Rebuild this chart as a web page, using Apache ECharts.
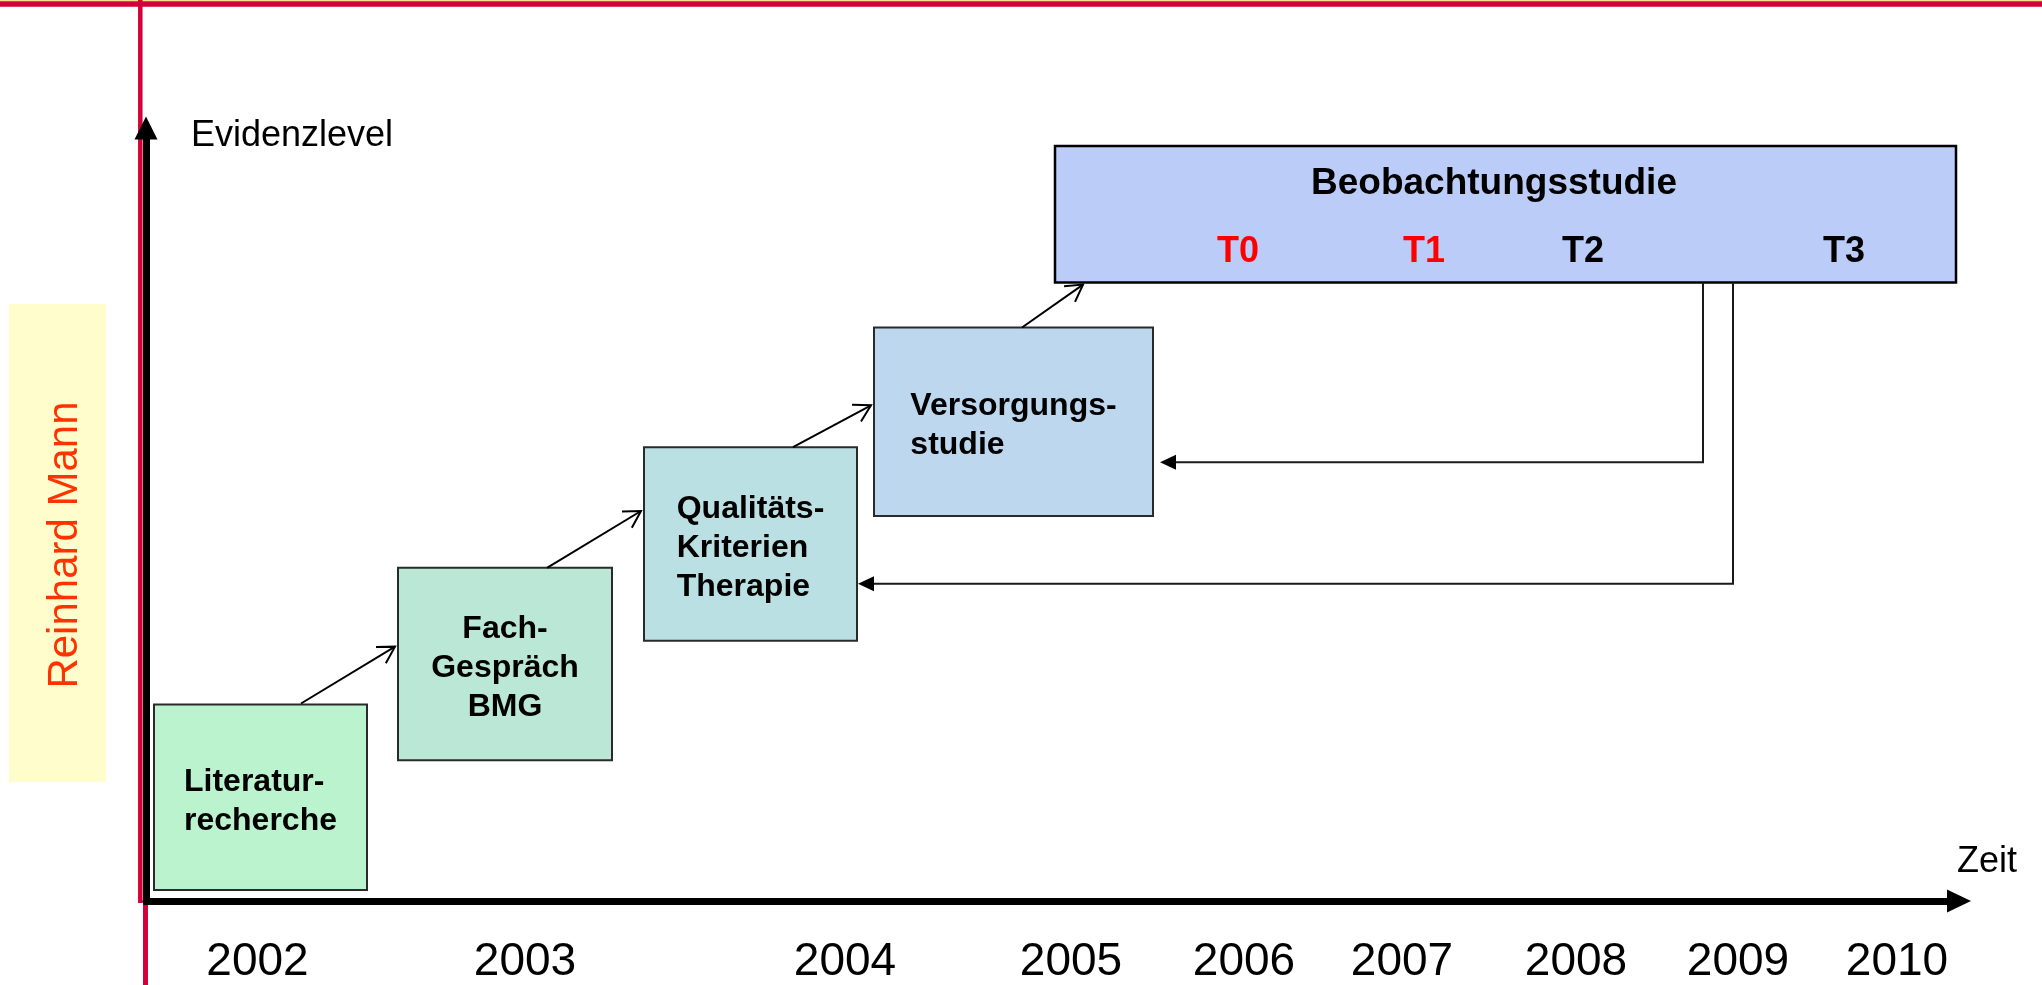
<!DOCTYPE html>
<html><head><meta charset="utf-8">
<script src="https://cdn.jsdelivr.net/npm/echarts@6/dist/echarts.min.js"></script>
<style>html,body{margin:0;padding:0;background:#fff}#c{width:2042px;height:985px}</style>
</head><body><div id="c"></div>
<script>
// ---- data: time (x) and evidence level (y), measured from the axis origin ----
const yearLabels = ['2002','2003','2004','2005','2006','2007','2008','2009','2010'];
const yearPos = [111.5, 379, 699, 925, 1098, 1256, 1430, 1592, 1751];

const stepLabels = [['Literatur-','recherche'], ['Fach-','Gespräch','BMG'], ['Qualitäts-','Kriterien','Therapie'], ['Versorgungs-','studie']];
const stepStart = [8, 252, 498, 728];
const stepEnd = [221, 466, 711, 1007];
const stepLow = [11, 141, 261, 386];
const stepHigh = [197, 334, 455, 575];

const studyLabel = 'Beobachtungsstudie';
const studySpan = [909, 1810];
const studyLevel = [620, 757];
const studyTitleAt = [1348, 721];
const timepointLabels = ['T0','T1','T2','T3'];
const timepointPos = [1092, 1278, 1437, 1698];
const timepointLevel = 652;

const arrowFrom = [[155,198],[401,334],[647,455],[876,575]];
const arrowTo = [[249,255],[495,391],[725,497],[937,618]];

const feedbackPaths = [[[1557,620],[1557,440],[1014,440]], [[1587,620],[1587,318],[712,318]]];

const axisNames = {y: 'Evidenzlevel', x: 'Zeit'};
const author = 'Reinhard Mann';

// ---- styles ----
const FONT = '"Liberation Sans", Arial, sans-serif';
const stepColors = ['#BBF3CF','#BBE8D6','#BBE0E3','#BCD7EE'];
const stepAlign = ['left','center','left','left'];
const studyColor = '#BBCCF9';
const timepointColors = ['#FF0000','#FF0000','#000000','#000000'];

const mctx = document.createElement('canvas').getContext('2d');
function textW(t, font){ mctx.font = font; return mctx.measureText(t).width; }

const chart = echarts.init(document.getElementById('c'), null, {renderer:'canvas'});

const stepFont = 'bold 32px ' + FONT;
const studyFont = 'bold 36px ' + FONT;
const titleFont = 'bold 37px ' + FONT;

function nearestYear(v){
  let bi = 0, bd = Infinity;
  yearPos.forEach((p,i)=>{ const d = Math.abs(p - v); if (d < bd){bd = d; bi = i;} });
  return yearLabels[bi];
}

const option = {
  backgroundColor: '#ffffff',
  animation: false,
  grid: {left:146, right:83, top:128, bottom:82, containLabel:false},
  xAxis: {
    type:'value', min:0, max:1813,
    axisLine:{show:true, onZero:false, symbol:['none','triangle'], symbolSize:[23,24], lineStyle:{color:'#000', width:7}},
    axisTick:{show:false}, splitLine:{show:false},
    axisLabel:{show:true, customValues: yearPos, formatter: v => nearestYear(v),
      fontSize:46, color:'#000', fontFamily:FONT, margin:38}
  },
  yAxis: {
    type:'value', min:0, max:775,
    axisLine:{show:true, onZero:false, symbol:['none','triangle'], symbolSize:[23,23], lineStyle:{color:'#000', width:7, cap:'square'}},
    axisTick:{show:false}, splitLine:{show:false}, axisLabel:{show:false}
  },
  graphic: [
    {type:'line', z:-10, shape:{x1:0,y1:0.5,x2:2042,y2:0.5}, style:{stroke:'#F6DC8C', lineWidth:1.5}},
    {type:'line', z:-10, shape:{x1:0,y1:4,x2:2042,y2:4}, style:{stroke:'#D4003A', lineWidth:5.5}},
    {type:'line', z:-10, shape:{x1:140.3,y1:0,x2:140.3,y2:903}, style:{stroke:'#D4003A', lineWidth:4.5}},
    {type:'line', z:-10, shape:{x1:145.5,y1:903,x2:145.5,y2:985}, style:{stroke:'#D4003A', lineWidth:5}},
    {type:'rect', z:-10, shape:{x:9,y:304,width:97,height:478}, style:{fill:'#FFFDCC'}},
    {type:'text', z:5, x:65, y:545, rotation:Math.PI/2,
      style:{text:author, font:'42px ' + FONT, fill:'#FF3300', align:'center', verticalAlign:'middle'}},
    {type:'text', z:5, x:191, y:136,
      style:{text:axisNames.y, font:'36px ' + FONT, fill:'#000', align:'left', verticalAlign:'middle'}},
    {type:'text', z:5, x:1957, y:862,
      style:{text:axisNames.x, font:'36px ' + FONT, fill:'#000', align:'left', verticalAlign:'middle'}}
  ],
  series: [
    {
      type:'custom', name:'steps', z:2, clip:false,
      encode:{x:[0,1], y:[2,3]},
      data: stepStart.map((s,i)=>[s, stepEnd[i], stepLow[i], stepHigh[i], i]),
      renderItem: function(params, api){
        const i = api.value(4);
        const p0 = api.coord([api.value(0), api.value(3)]);
        const p1 = api.coord([api.value(1), api.value(2)]);
        const cx = (p0[0]+p1[0])/2, cy = (p0[1]+p1[1])/2;
        const lines = stepLabels[i];
        let tx = cx;
        if (stepAlign[i] === 'left') {
          const w = Math.max.apply(null, lines.map(l=>textW(l, stepFont)));
          tx = cx - w/2;
        }
        return {type:'group', children:[
          {type:'rect', shape:{x:p0[0], y:p0[1], width:p1[0]-p0[0], height:p1[1]-p0[1]},
            style:{fill:stepColors[i], stroke:'#2a2a2a', lineWidth:2}},
          {type:'text', x:tx, y:cy+4, style:{text:lines.join('\n'), font:stepFont, fill:'#000',
            align:stepAlign[i], verticalAlign:'middle', lineHeight:39}}
        ]};
      }
    },
    {
      type:'custom', name:'study', z:2, clip:false,
      encode:{x:[0,1], y:[2,3]},
      data: [[studySpan[0], studySpan[1], studyLevel[0], studyLevel[1], studyTitleAt[0], studyTitleAt[1]]],
      renderItem: function(params, api){
        const p0 = api.coord([api.value(0), api.value(3)]);
        const p1 = api.coord([api.value(1), api.value(2)]);
        const pt = api.coord([api.value(4), api.value(5)]);
        return {type:'group', children:[
          {type:'rect', shape:{x:p0[0], y:p0[1], width:p1[0]-p0[0], height:p1[1]-p0[1]},
            style:{fill:studyColor, stroke:'#000', lineWidth:2.5}},
          {type:'text', x:pt[0], y:pt[1]+1.5, style:{text:studyLabel, font:titleFont, fill:'#000',
            align:'center', verticalAlign:'middle'}}
        ]};
      }
    },
    {
      type:'custom', name:'timepoints', z:3, clip:false,
      encode:{x:0, y:1},
      data: timepointPos.map((x,i)=>[x, timepointLevel, i]),
      renderItem: function(params, api){
        const i = api.value(2);
        const p = api.coord([api.value(0), api.value(1)]);
        return {type:'text', x:p[0], y:p[1]+1.5, style:{text:timepointLabels[i], font:studyFont,
          fill:timepointColors[i], align:'center', verticalAlign:'middle'}};
      }
    },
    {
      type:'custom', name:'progress', z:4, clip:false,
      encode:{x:[0,2], y:[1,3]},
      data: arrowFrom.map((f,i)=>[f[0], f[1], arrowTo[i][0], arrowTo[i][1]]),
      renderItem: function(params, api){
        const a = api.coord([api.value(0), api.value(1)]);
        const b = api.coord([api.value(2), api.value(3)]);
        const ang = Math.atan2(a[1]-b[1], a[0]-b[0]);
        const L = 19, s = Math.PI/6;
        const e1 = [b[0] + L*Math.cos(ang+s), b[1] + L*Math.sin(ang+s)];
        const e2 = [b[0] + L*Math.cos(ang-s), b[1] + L*Math.sin(ang-s)];
        return {type:'group', children:[
          {type:'line', shape:{x1:a[0], y1:a[1], x2:b[0], y2:b[1]}, style:{stroke:'#000', lineWidth:2}},
          {type:'polyline', shape:{points:[e1, b, e2]}, style:{stroke:'#000', lineWidth:2, fill:null}}
        ]};
      }
    },
    {
      type:'custom', name:'feedback', z:4, clip:false,
      encode:{x:[0,2,4], y:[1,3,5]},
      data: feedbackPaths.map(p=>[p[0][0],p[0][1],p[1][0],p[1][1],p[2][0],p[2][1]]),
      renderItem: function(params, api){
        const pts = [0,1,2].map(k=>api.coord([api.value(2*k), api.value(2*k+1)]));
        const tip = pts[2];
        const L = 16, W = 7.5;
        const lineEnd = [tip[0]+L-1, tip[1]];
        return {type:'group', children:[
          {type:'polyline', shape:{points:[pts[0], pts[1], lineEnd]}, style:{stroke:'#1a1a1a', lineWidth:2, fill:null}},
          {type:'polygon', shape:{points:[tip, [tip[0]+L, tip[1]-W], [tip[0]+L, tip[1]+W]]}, style:{fill:'#000'}}
        ]};
      }
    }
  ]
};
chart.setOption(option);
</script>
</body></html>
